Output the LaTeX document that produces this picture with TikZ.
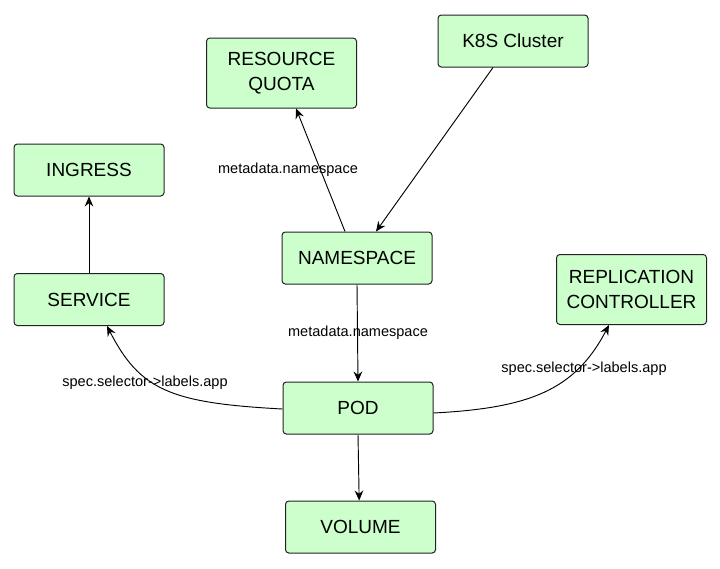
\documentclass[tikz,border=0pt]{standalone}
\usepackage{fontspec}
\setmainfont{Liberation Sans}
\usetikzlibrary{arrows.meta}
\definecolor{boxfill}{HTML}{CCFFCC}
\definecolor{boxline}{HTML}{222222}
\tikzset{
  kbox/.style={draw=boxline, fill=boxfill, line width=0.75pt, rounded corners=2.5pt,
    inner sep=0pt, align=center, minimum width=112.5pt, minimum height=39pt,
    font=\fontsize{14.25}{18.75}\selectfont},
  tallbox/.style={kbox, minimum height=52.5pt},
  elabel/.style={font=\fontsize{10.9}{13}\selectfont, inner sep=0pt},
  conn/.style={draw=black, line width=0.7pt, -{Stealth[length=7.5pt,width=6.5pt,inset=2.5pt]}}
}
\begin{document}
\begin{tikzpicture}[x=0.75pt,y=-0.75pt]
\useasboundingbox (0,0) rectangle (720,568);
\node[tallbox] (rq) at (281.5,73) {RESOURCE\\QUOTA};
\node[kbox] (k8s) at (513,41) {K8S Cluster};
\node[kbox] (ing) at (89,170) {INGRESS};
\node[kbox] (ns) at (357,258) {NAMESPACE};
\node[kbox] (svc) at (89,299.5) {SERVICE};
\node[tallbox] (rc) at (631.5,289.5) {REPLICATION\\CONTROLLER};
\node[kbox] (pod) at (358,408) {POD};
\node[kbox] (vol) at (360.5,527) {VOLUME};

\draw[conn] ([xshift=-9pt]ns.north) -- ([xshift=10.9pt]rq.south);
\draw[conn] ([xshift=-15pt]k8s.south) -- ([xshift=14.25pt]ns.north);
\draw[conn] (svc.north) -- (ing.south);
\draw[conn] (ns.south) -- (pod.north);
\draw[conn] (pod.south) -- ([xshift=-1pt]vol.north);
\draw[conn] ([yshift=-0.75pt]pod.west) .. controls (170,403) and (140,390) .. ([xshift=13.5pt]svc.south);
\draw[conn] ([yshift=-3.75pt]pod.east) .. controls (530,408) and (575,390) .. ([xshift=-16.9pt]rc.south);

\node[elabel] (l1) at (288,170) {metadata.namespace};
\node[elabel] (l2) at (358,333) {metadata.namespace};
\node[elabel] (l3) at (145,383) {spec.selector->labels.app};
\node[elabel] (l4) at (584,369) {spec.selector->labels.app};
\end{tikzpicture}
\end{document}
